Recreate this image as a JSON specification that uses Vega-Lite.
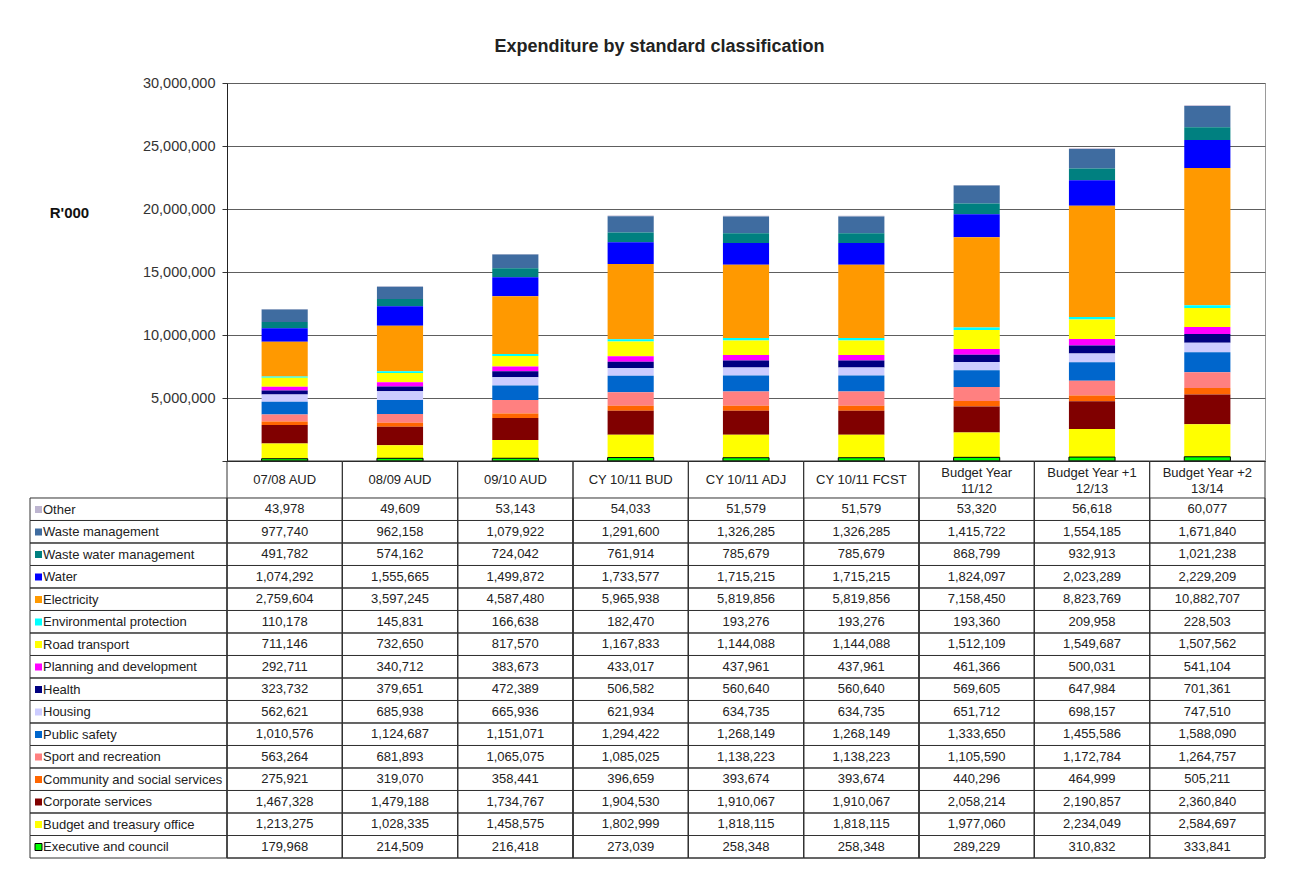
{
  "$schema": "https://vega.github.io/schema/vega-lite/v6.json",
  "background": "white",
  "padding": {"left": 29, "top": 37, "right": 30, "bottom": 10},
  "title": {
    "text": "Expenditure by standard classification",
    "font": "Liberation Sans",
    "fontSize": 18,
    "fontWeight": "bold",
    "color": "#222222",
    "anchor": "middle",
    "offset": 19,
    "dx": 12
  },
  "config": {
    "font": "Liberation Sans",
    "view": {"stroke": null},
    "axis": {"labelFont": "Liberation Sans", "titleFont": "Liberation Sans"},
    "legend": {"labelFont": "Liberation Sans"}
  },
  "datasets": {
    "classes": [
      {"c": "Other", "k": 16},
      {"c": "Waste management", "k": 15},
      {"c": "Waste water management", "k": 14},
      {"c": "Water", "k": 13},
      {"c": "Electricity", "k": 12},
      {"c": "Environmental protection", "k": 11},
      {"c": "Road transport", "k": 10},
      {"c": "Planning and development", "k": 9},
      {"c": "Health", "k": 8},
      {"c": "Housing", "k": 7},
      {"c": "Public safety", "k": 6},
      {"c": "Sport and recreation", "k": 5},
      {"c": "Community and social services", "k": 4},
      {"c": "Corporate services", "k": 3},
      {"c": "Budget and treasury office", "k": 2},
      {"c": "Executive and council", "k": 1}
    ],
    "exp": [
      {"p": "07/08 AUD", "c": "Other", "v": 43978},
      {"p": "08/09 AUD", "c": "Other", "v": 49609},
      {"p": "09/10 AUD", "c": "Other", "v": 53143},
      {"p": "CY 10/11 BUD", "c": "Other", "v": 54033},
      {"p": "CY  10/11 ADJ", "c": "Other", "v": 51579},
      {"p": "CY 10/11 FCST", "c": "Other", "v": 51579},
      {"p": "Budget Year 11/12", "c": "Other", "v": 53320},
      {"p": "Budget Year +1 12/13", "c": "Other", "v": 56618},
      {"p": "Budget Year +2 13/14", "c": "Other", "v": 60077},

      {"p": "07/08 AUD", "c": "Waste management", "v": 977740},
      {"p": "08/09 AUD", "c": "Waste management", "v": 962158},
      {"p": "09/10 AUD", "c": "Waste management", "v": 1079922},
      {"p": "CY 10/11 BUD", "c": "Waste management", "v": 1291600},
      {"p": "CY  10/11 ADJ", "c": "Waste management", "v": 1326285},
      {"p": "CY 10/11 FCST", "c": "Waste management", "v": 1326285},
      {"p": "Budget Year 11/12", "c": "Waste management", "v": 1415722},
      {"p": "Budget Year +1 12/13", "c": "Waste management", "v": 1554185},
      {"p": "Budget Year +2 13/14", "c": "Waste management", "v": 1671840},

      {"p": "07/08 AUD", "c": "Waste water management", "v": 491782},
      {"p": "08/09 AUD", "c": "Waste water management", "v": 574162},
      {"p": "09/10 AUD", "c": "Waste water management", "v": 724042},
      {"p": "CY 10/11 BUD", "c": "Waste water management", "v": 761914},
      {"p": "CY  10/11 ADJ", "c": "Waste water management", "v": 785679},
      {"p": "CY 10/11 FCST", "c": "Waste water management", "v": 785679},
      {"p": "Budget Year 11/12", "c": "Waste water management", "v": 868799},
      {"p": "Budget Year +1 12/13", "c": "Waste water management", "v": 932913},
      {"p": "Budget Year +2 13/14", "c": "Waste water management", "v": 1021238},

      {"p": "07/08 AUD", "c": "Water", "v": 1074292},
      {"p": "08/09 AUD", "c": "Water", "v": 1555665},
      {"p": "09/10 AUD", "c": "Water", "v": 1499872},
      {"p": "CY 10/11 BUD", "c": "Water", "v": 1733577},
      {"p": "CY  10/11 ADJ", "c": "Water", "v": 1715215},
      {"p": "CY 10/11 FCST", "c": "Water", "v": 1715215},
      {"p": "Budget Year 11/12", "c": "Water", "v": 1824097},
      {"p": "Budget Year +1 12/13", "c": "Water", "v": 2023289},
      {"p": "Budget Year +2 13/14", "c": "Water", "v": 2229209},

      {"p": "07/08 AUD", "c": "Electricity", "v": 2759604},
      {"p": "08/09 AUD", "c": "Electricity", "v": 3597245},
      {"p": "09/10 AUD", "c": "Electricity", "v": 4587480},
      {"p": "CY 10/11 BUD", "c": "Electricity", "v": 5965938},
      {"p": "CY  10/11 ADJ", "c": "Electricity", "v": 5819856},
      {"p": "CY 10/11 FCST", "c": "Electricity", "v": 5819856},
      {"p": "Budget Year 11/12", "c": "Electricity", "v": 7158450},
      {"p": "Budget Year +1 12/13", "c": "Electricity", "v": 8823769},
      {"p": "Budget Year +2 13/14", "c": "Electricity", "v": 10882707},

      {"p": "07/08 AUD", "c": "Environmental protection", "v": 110178},
      {"p": "08/09 AUD", "c": "Environmental protection", "v": 145831},
      {"p": "09/10 AUD", "c": "Environmental protection", "v": 166638},
      {"p": "CY 10/11 BUD", "c": "Environmental protection", "v": 182470},
      {"p": "CY  10/11 ADJ", "c": "Environmental protection", "v": 193276},
      {"p": "CY 10/11 FCST", "c": "Environmental protection", "v": 193276},
      {"p": "Budget Year 11/12", "c": "Environmental protection", "v": 193360},
      {"p": "Budget Year +1 12/13", "c": "Environmental protection", "v": 209958},
      {"p": "Budget Year +2 13/14", "c": "Environmental protection", "v": 228503},

      {"p": "07/08 AUD", "c": "Road transport", "v": 711146},
      {"p": "08/09 AUD", "c": "Road transport", "v": 732650},
      {"p": "09/10 AUD", "c": "Road transport", "v": 817570},
      {"p": "CY 10/11 BUD", "c": "Road transport", "v": 1167833},
      {"p": "CY  10/11 ADJ", "c": "Road transport", "v": 1144088},
      {"p": "CY 10/11 FCST", "c": "Road transport", "v": 1144088},
      {"p": "Budget Year 11/12", "c": "Road transport", "v": 1512109},
      {"p": "Budget Year +1 12/13", "c": "Road transport", "v": 1549687},
      {"p": "Budget Year +2 13/14", "c": "Road transport", "v": 1507562},

      {"p": "07/08 AUD", "c": "Planning and development", "v": 292711},
      {"p": "08/09 AUD", "c": "Planning and development", "v": 340712},
      {"p": "09/10 AUD", "c": "Planning and development", "v": 383673},
      {"p": "CY 10/11 BUD", "c": "Planning and development", "v": 433017},
      {"p": "CY  10/11 ADJ", "c": "Planning and development", "v": 437961},
      {"p": "CY 10/11 FCST", "c": "Planning and development", "v": 437961},
      {"p": "Budget Year 11/12", "c": "Planning and development", "v": 461366},
      {"p": "Budget Year +1 12/13", "c": "Planning and development", "v": 500031},
      {"p": "Budget Year +2 13/14", "c": "Planning and development", "v": 541104},

      {"p": "07/08 AUD", "c": "Health", "v": 323732},
      {"p": "08/09 AUD", "c": "Health", "v": 379651},
      {"p": "09/10 AUD", "c": "Health", "v": 472389},
      {"p": "CY 10/11 BUD", "c": "Health", "v": 506582},
      {"p": "CY  10/11 ADJ", "c": "Health", "v": 560640},
      {"p": "CY 10/11 FCST", "c": "Health", "v": 560640},
      {"p": "Budget Year 11/12", "c": "Health", "v": 569605},
      {"p": "Budget Year +1 12/13", "c": "Health", "v": 647984},
      {"p": "Budget Year +2 13/14", "c": "Health", "v": 701361},

      {"p": "07/08 AUD", "c": "Housing", "v": 562621},
      {"p": "08/09 AUD", "c": "Housing", "v": 685938},
      {"p": "09/10 AUD", "c": "Housing", "v": 665936},
      {"p": "CY 10/11 BUD", "c": "Housing", "v": 621934},
      {"p": "CY  10/11 ADJ", "c": "Housing", "v": 634735},
      {"p": "CY 10/11 FCST", "c": "Housing", "v": 634735},
      {"p": "Budget Year 11/12", "c": "Housing", "v": 651712},
      {"p": "Budget Year +1 12/13", "c": "Housing", "v": 698157},
      {"p": "Budget Year +2 13/14", "c": "Housing", "v": 747510},

      {"p": "07/08 AUD", "c": "Public safety", "v": 1010576},
      {"p": "08/09 AUD", "c": "Public safety", "v": 1124687},
      {"p": "09/10 AUD", "c": "Public safety", "v": 1151071},
      {"p": "CY 10/11 BUD", "c": "Public safety", "v": 1294422},
      {"p": "CY  10/11 ADJ", "c": "Public safety", "v": 1268149},
      {"p": "CY 10/11 FCST", "c": "Public safety", "v": 1268149},
      {"p": "Budget Year 11/12", "c": "Public safety", "v": 1333650},
      {"p": "Budget Year +1 12/13", "c": "Public safety", "v": 1455586},
      {"p": "Budget Year +2 13/14", "c": "Public safety", "v": 1588090},

      {"p": "07/08 AUD", "c": "Sport and recreation", "v": 563264},
      {"p": "08/09 AUD", "c": "Sport and recreation", "v": 681893},
      {"p": "09/10 AUD", "c": "Sport and recreation", "v": 1065075},
      {"p": "CY 10/11 BUD", "c": "Sport and recreation", "v": 1085025},
      {"p": "CY  10/11 ADJ", "c": "Sport and recreation", "v": 1138223},
      {"p": "CY 10/11 FCST", "c": "Sport and recreation", "v": 1138223},
      {"p": "Budget Year 11/12", "c": "Sport and recreation", "v": 1105590},
      {"p": "Budget Year +1 12/13", "c": "Sport and recreation", "v": 1172784},
      {"p": "Budget Year +2 13/14", "c": "Sport and recreation", "v": 1264757},

      {"p": "07/08 AUD", "c": "Community and social services", "v": 275921},
      {"p": "08/09 AUD", "c": "Community and social services", "v": 319070},
      {"p": "09/10 AUD", "c": "Community and social services", "v": 358441},
      {"p": "CY 10/11 BUD", "c": "Community and social services", "v": 396659},
      {"p": "CY  10/11 ADJ", "c": "Community and social services", "v": 393674},
      {"p": "CY 10/11 FCST", "c": "Community and social services", "v": 393674},
      {"p": "Budget Year 11/12", "c": "Community and social services", "v": 440296},
      {"p": "Budget Year +1 12/13", "c": "Community and social services", "v": 464999},
      {"p": "Budget Year +2 13/14", "c": "Community and social services", "v": 505211},

      {"p": "07/08 AUD", "c": "Corporate services", "v": 1467328},
      {"p": "08/09 AUD", "c": "Corporate services", "v": 1479188},
      {"p": "09/10 AUD", "c": "Corporate services", "v": 1734767},
      {"p": "CY 10/11 BUD", "c": "Corporate services", "v": 1904530},
      {"p": "CY  10/11 ADJ", "c": "Corporate services", "v": 1910067},
      {"p": "CY 10/11 FCST", "c": "Corporate services", "v": 1910067},
      {"p": "Budget Year 11/12", "c": "Corporate services", "v": 2058214},
      {"p": "Budget Year +1 12/13", "c": "Corporate services", "v": 2190857},
      {"p": "Budget Year +2 13/14", "c": "Corporate services", "v": 2360840},

      {"p": "07/08 AUD", "c": "Budget and treasury office", "v": 1213275},
      {"p": "08/09 AUD", "c": "Budget and treasury office", "v": 1028335},
      {"p": "09/10 AUD", "c": "Budget and treasury office", "v": 1458575},
      {"p": "CY 10/11 BUD", "c": "Budget and treasury office", "v": 1802999},
      {"p": "CY  10/11 ADJ", "c": "Budget and treasury office", "v": 1818115},
      {"p": "CY 10/11 FCST", "c": "Budget and treasury office", "v": 1818115},
      {"p": "Budget Year 11/12", "c": "Budget and treasury office", "v": 1977060},
      {"p": "Budget Year +1 12/13", "c": "Budget and treasury office", "v": 2234049},
      {"p": "Budget Year +2 13/14", "c": "Budget and treasury office", "v": 2584697},

      {"p": "07/08 AUD", "c": "Executive and council", "v": 179968},
      {"p": "08/09 AUD", "c": "Executive and council", "v": 214509},
      {"p": "09/10 AUD", "c": "Executive and council", "v": 216418},
      {"p": "CY 10/11 BUD", "c": "Executive and council", "v": 273039},
      {"p": "CY  10/11 ADJ", "c": "Executive and council", "v": 258348},
      {"p": "CY 10/11 FCST", "c": "Executive and council", "v": 258348},
      {"p": "Budget Year 11/12", "c": "Executive and council", "v": 289229},
      {"p": "Budget Year +1 12/13", "c": "Executive and council", "v": 310832},
      {"p": "Budget Year +2 13/14", "c": "Executive and council", "v": 333841}
    ]
  },
  "data": {"name": "exp"},
  "columns": 2,
  "spacing": {"row": 0, "column": 0},
  "bounds": "flush",
  "concat": [
    {
      "data": {"values": []},
      "width": 197,
      "height": 378,
      "mark": "text",
      "encoding": {}
    },
    {
      "width": 1038,
      "height": 378,
      "view": {"stroke": "#9a9a9a"},
      "transform": [
        {"lookup": "c", "from": {"data": {"name": "classes"}, "key": "c", "fields": ["k"]}}
      ],
      "mark": {"type": "bar", "stroke": "black"},
      "encoding": {
        "x": {
          "field": "p",
          "type": "nominal",
          "sort": ["07/08 AUD", "08/09 AUD", "09/10 AUD", "CY 10/11 BUD", "CY  10/11 ADJ", "CY 10/11 FCST", "Budget Year 11/12", "Budget Year +1 12/13", "Budget Year +2 13/14"],
          "scale": {"paddingInner": 0.6, "paddingOuter": 0.3},
          "axis": {
            "title": null,
            "orient": "bottom",
            "labelAngle": 0,
            "ticks": false,
            "domainColor": "#222222",
            "labelPadding": {
              "condition": {"test": "indexof(datum.value, 'Budget') === 0", "value": 11},
              "value": 18.5
            },
            "labelBaseline": "middle",
            "labelFontSize": 13,
            "labelColor": "#222222",
            "labelLineHeight": 16,
            "labelLimit": 0,
            "labelExpr": "indexof(datum.label, 'Budget') === 0 ? [slice(datum.label, 0, lastindexof(datum.label, ' ')), slice(datum.label, lastindexof(datum.label, ' ') + 1)] : datum.label"
          }
        },
        "y": {
          "field": "v",
          "type": "quantitative",
          "stack": "zero",
          "scale": {"domain": [0, 30000000], "nice": false},
          "axis": {
            "title": "R'000",
            "titleAngle": 0,
            "titleX": -158,
            "titleY": 129,
            "titleAlign": "center",
            "titleBaseline": "middle",
            "titleFontSize": 15,
            "titleFontWeight": "bold",
            "titleColor": "#111111",
            "values": [0, 5000000, 10000000, 15000000, 20000000, 25000000, 30000000],
            "format": ",.0f",
            "labelExpr": "datum.value === 0 ? '' : datum.label",
            "grid": true,
            "gridColor": "#5e5e5e",
            "tickSize": 5,
            "tickColor": "#333333",
            "domainColor": "#222222",
            "labelPadding": 7,
            "labelFontSize": 14.5,
            "labelColor": "#333333"
          }
        },
        "color": {
          "field": "c",
          "type": "nominal",
          "scale": {
            "domain": ["Other", "Waste management", "Waste water management", "Water", "Electricity", "Environmental protection", "Road transport", "Planning and development", "Health", "Housing", "Public safety", "Sport and recreation", "Community and social services", "Corporate services", "Budget and treasury office", "Executive and council"],
            "range": ["#bdb5d0", "#3f6ca0", "#008080", "#0000ff", "#ff9900", "#00ffff", "#ffff00", "#ff00ff", "#000080", "#ccccff", "#0066cc", "#ff8080", "#ff6600", "#800000", "#ffff00", "#00ff00"]
          },
          "legend": {
            "orient": "none",
            "legendX": 2,
            "legendY": 420,
            "title": null,
            "symbolType": "square",
            "symbolSize": 49,
            "symbolStrokeColor": "black",
            "labelFontSize": 13,
            "labelColor": "#222222",
            "labelOffset": -2,
            "labelLimit": 0,
            "rowPadding": 8.5,
            "padding": 0,
            "encode": {
              "symbols": {
                "update": {
                  "strokeWidth": {"signal": "datum.value === 'Executive and council' ? 1 : 0"}
                }
              }
            }
          }
        },
        "order": {"field": "k", "type": "quantitative", "sort": "ascending"},
        "strokeWidth": {
          "condition": {"test": "datum.c === 'Executive and council'", "value": 1},
          "value": 0
        }
      }
    },
    {
      "width": 197,
      "height": 397,
      "transform": [{"aggregate": [{"op": "count", "as": "n"}], "groupby": ["c"]}],
      "mark": {"type": "rect", "filled": false, "stroke": "#333333", "strokeWidth": 1},
      "encoding": {
        "y": {
          "field": "c",
          "type": "nominal",
          "sort": ["Other", "Waste management", "Waste water management", "Water", "Electricity", "Environmental protection", "Road transport", "Planning and development", "Health", "Housing", "Public safety", "Sport and recreation", "Community and social services", "Corporate services", "Budget and treasury office", "Executive and council"],
          "scale": {"paddingInner": 0, "paddingOuter": 0.82222, "align": 1},
          "axis": null
        }
      }
    },
    {
      "width": 1038,
      "height": 397,
      "encoding": {
        "x": {
          "field": "p",
          "type": "nominal",
          "sort": ["07/08 AUD", "08/09 AUD", "09/10 AUD", "CY 10/11 BUD", "CY  10/11 ADJ", "CY 10/11 FCST", "Budget Year 11/12", "Budget Year +1 12/13", "Budget Year +2 13/14"],
          "scale": {"paddingInner": 0, "paddingOuter": 0},
          "axis": null
        }
      },
      "layer": [
        {
          "transform": [{"aggregate": [{"op": "count", "as": "n"}], "groupby": ["p"]}],
          "mark": {"type": "rect", "filled": false, "stroke": "#333333", "strokeWidth": 1}
        },
        {
          "mark": {"type": "rect", "filled": false, "stroke": "#333333", "strokeWidth": 1},
          "encoding": {
            "y": {
              "field": "c",
              "type": "nominal",
              "sort": ["Other", "Waste management", "Waste water management", "Water", "Electricity", "Environmental protection", "Road transport", "Planning and development", "Health", "Housing", "Public safety", "Sport and recreation", "Community and social services", "Corporate services", "Budget and treasury office", "Executive and council"],
              "scale": {"paddingInner": 0, "paddingOuter": 0.82222, "align": 1},
              "axis": null
            }
          }
        },
        {
          "mark": {"type": "text", "fontSize": 13, "color": "#222222"},
          "encoding": {
            "y": {
              "field": "c",
              "type": "nominal",
              "sort": ["Other", "Waste management", "Waste water management", "Water", "Electricity", "Environmental protection", "Road transport", "Planning and development", "Health", "Housing", "Public safety", "Sport and recreation", "Community and social services", "Corporate services", "Budget and treasury office", "Executive and council"],
              "axis": null
            },
            "text": {"field": "v", "type": "quantitative", "format": ","}
          }
        }
      ]
    }
  ]
}
